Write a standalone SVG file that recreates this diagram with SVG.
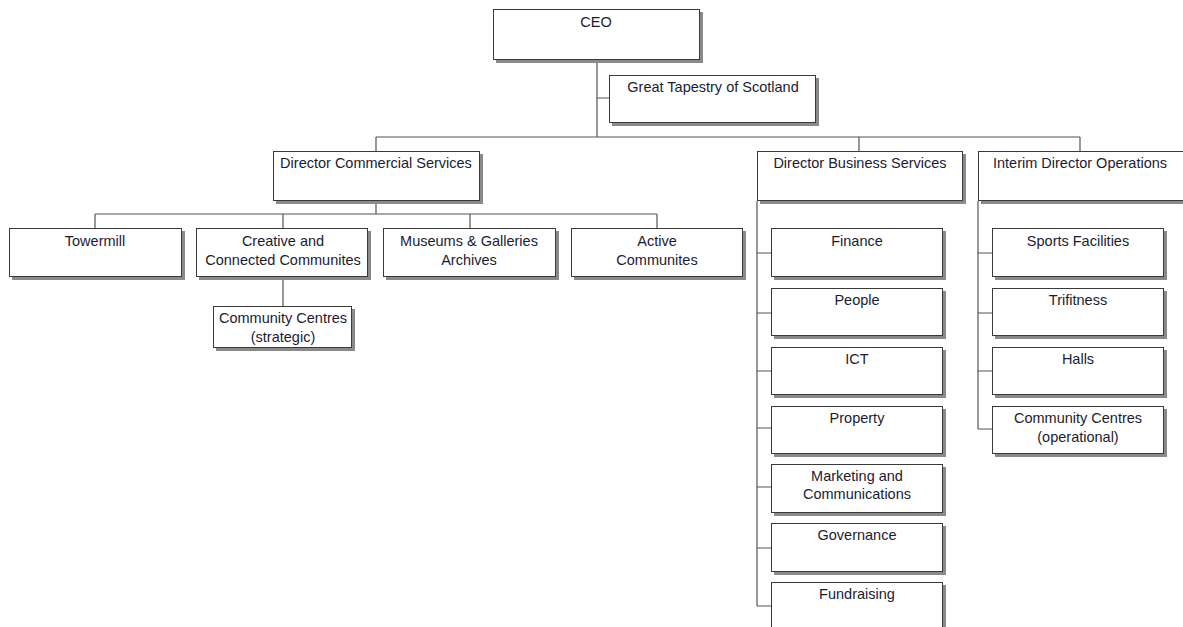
<svg xmlns="http://www.w3.org/2000/svg" width="1183" height="627" viewBox="0 0 1183 627">
<style>
.box{fill:#fff;stroke:#3a3a3a;stroke-width:1}
.sh{fill:#8a8a8a}
.t{font-family:"Liberation Sans",Arial,sans-serif;font-size:14.5px;fill:#1c1c30;text-anchor:middle}
.c{fill:none;stroke:#555;stroke-width:1.2}
</style>
<rect width="1183" height="627" fill="#fff"/>
<g id="connectors">
<path class="c" d="M597 60V137M597 98H609M376 137H1080M376 137V151M859 137V151M1080 137V151"/>
<path class="c" d="M376 201V214M95 214H657M95 214V228M283 214V228M470 214V228M657 214V228M283 277V306"/>
<path class="c" d="M757 201V606M757 253H771M757 313H771M757 371H771M757 428H771M757 487H771M757 548H771M757 606H771"/>
<path class="c" d="M978 201V429M978 253H992M978 313H992M978 371H992M978 429H992"/>
</g>
<g id="ceo"><rect class="sh" x="496" y="12" width="207" height="51"/><rect class="box" x="493.5" y="9.5" width="206" height="50"/><text class="t" x="596" y="27">CEO</text></g>
<g id="tapestry"><rect class="sh" x="612" y="78" width="207" height="48"/><rect class="box" x="609.5" y="75.5" width="206" height="47"/><text class="t" x="713" y="92">Great Tapestry of Scotland</text></g>
<g id="dir-commercial"><rect class="sh" x="276" y="154" width="207" height="50"/><rect class="box" x="273.5" y="151.5" width="206" height="49"/><text class="t" x="376" y="168">Director Commercial Services</text></g>
<g id="dir-business"><rect class="sh" x="760" y="154" width="206" height="50"/><rect class="box" x="757.5" y="151.5" width="205" height="49"/><text class="t" x="860" y="168">Director Business Services</text></g>
<g id="dir-operations"><rect class="sh" x="981" y="154" width="206" height="50"/><rect class="box" x="978.5" y="151.5" width="206" height="49"/><text class="t" x="1080" y="168">Interim Director Operations</text></g>
<g id="towermill"><rect class="sh" x="12" y="231" width="173" height="49"/><rect class="box" x="9.5" y="228.5" width="172" height="48"/><text class="t" x="95" y="246">Towermill</text></g>
<g id="creative"><rect class="sh" x="199" y="231" width="172" height="49"/><rect class="box" x="196.5" y="228.5" width="171" height="48"/><text class="t" x="283" y="246">Creative and</text><text class="t" x="283" y="265">Connected Communites</text></g>
<g id="museums"><rect class="sh" x="386" y="231" width="173" height="49"/><rect class="box" x="383.5" y="228.5" width="172" height="48"/><text class="t" x="469" y="246">Museums &amp; Galleries</text><text class="t" x="469" y="265">Archives</text></g>
<g id="active"><rect class="sh" x="574" y="231" width="172" height="49"/><rect class="box" x="571.5" y="228.5" width="171" height="48"/><text class="t" x="657" y="246">Active</text><text class="t" x="657" y="265">Communites</text></g>
<g id="cc-strategic"><rect class="sh" x="216" y="309" width="139" height="42"/><rect class="box" x="213.5" y="306.5" width="138" height="41"/><text class="t" x="283" y="323">Community Centres</text><text class="t" x="283" y="342">(strategic)</text></g>
<g id="finance"><rect class="sh" x="774" y="231" width="172" height="49"/><rect class="box" x="771.5" y="228.5" width="171" height="48"/><text class="t" x="857" y="246">Finance</text></g>
<g id="people"><rect class="sh" x="774" y="291" width="172" height="48"/><rect class="box" x="771.5" y="288.5" width="171" height="47"/><text class="t" x="857" y="305">People</text></g>
<g id="ict"><rect class="sh" x="774" y="350" width="172" height="48"/><rect class="box" x="771.5" y="347.5" width="171" height="47"/><text class="t" x="857" y="364">ICT</text></g>
<g id="property"><rect class="sh" x="774" y="409" width="172" height="48"/><rect class="box" x="771.5" y="406.5" width="171" height="47"/><text class="t" x="857" y="423">Property</text></g>
<g id="marketing"><rect class="sh" x="774" y="467" width="172" height="49"/><rect class="box" x="771.5" y="464.5" width="171" height="48"/><text class="t" x="857" y="481">Marketing and</text><text class="t" x="857" y="499">Communications</text></g>
<g id="governance"><rect class="sh" x="774" y="526" width="172" height="49"/><rect class="box" x="771.5" y="523.5" width="171" height="48"/><text class="t" x="857" y="540">Governance</text></g>
<g id="fundraising"><rect class="sh" x="774" y="585" width="172" height="49"/><rect class="box" x="771.5" y="582.5" width="171" height="48"/><text class="t" x="857" y="599">Fundraising</text></g>
<g id="sports"><rect class="sh" x="995" y="231" width="172" height="49"/><rect class="box" x="992.5" y="228.5" width="171" height="48"/><text class="t" x="1078" y="246">Sports Facilities</text></g>
<g id="trifitness"><rect class="sh" x="995" y="291" width="172" height="48"/><rect class="box" x="992.5" y="288.5" width="171" height="47"/><text class="t" x="1078" y="305">Trifitness</text></g>
<g id="halls"><rect class="sh" x="995" y="350" width="172" height="48"/><rect class="box" x="992.5" y="347.5" width="171" height="47"/><text class="t" x="1078" y="364">Halls</text></g>
<g id="cc-operational"><rect class="sh" x="995" y="409" width="172" height="48"/><rect class="box" x="992.5" y="406.5" width="171" height="47"/><text class="t" x="1078" y="423">Community Centres</text><text class="t" x="1078" y="442">(operational)</text></g>
</svg>
